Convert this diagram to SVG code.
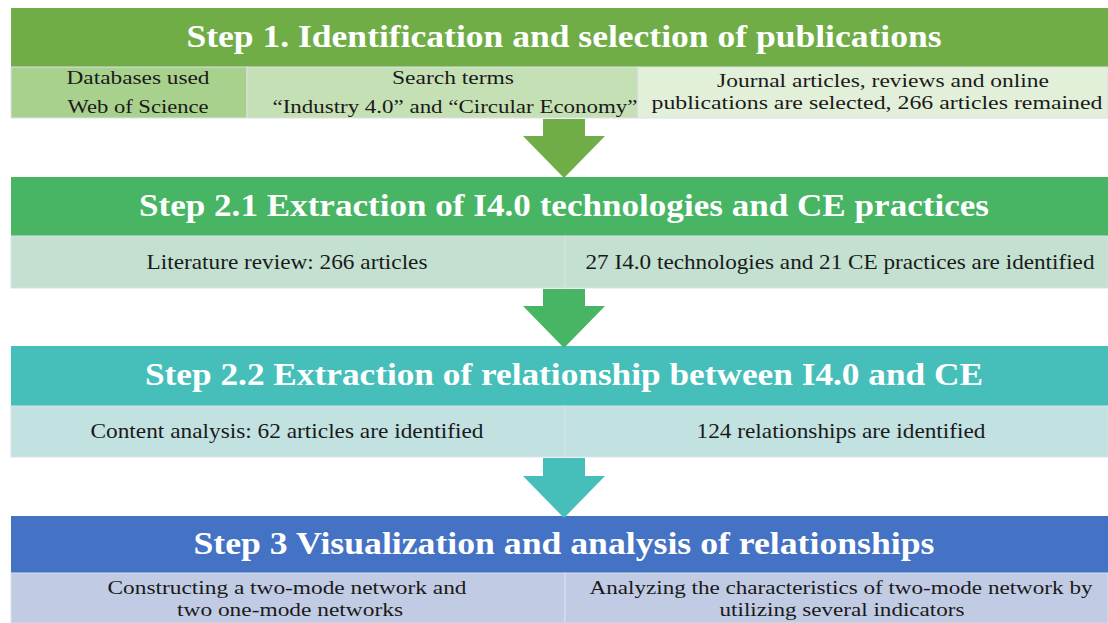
<svg xmlns="http://www.w3.org/2000/svg" width="1108" height="623" viewBox="0 0 1108 623">
  <style>
    .title { font-family: "Liberation Serif", "DejaVu Serif", serif; font-weight: bold; font-size: 31px; fill: #ffffff; text-anchor: middle; }
    .body { font-family: "Liberation Serif", "DejaVu Serif", serif; font-size: 21px; fill: #1a1a1a; text-anchor: middle; }
    .pair { font-size: 18.5px; }
    .cell { stroke: #d9e1ea; stroke-width: 1; }
  </style>
  <rect width="1108" height="623" fill="#ffffff"/>

  <!-- Step 1 -->
  <g id="step1">
    <rect x="11" y="8" width="1097" height="59" fill="#70ad47"/>
    <text class="title" x="564" y="47" textLength="755" lengthAdjust="spacingAndGlyphs">Step 1. Identification and selection of publications</text>
    <rect class="cell" x="11" y="67" width="236" height="51" fill="#a9d18e"/>
    <rect class="cell" x="247" y="67" width="391" height="51" fill="#c5e0b4"/>
    <rect class="cell" x="638" y="67" width="470" height="51" fill="#e2f0d9"/>
    <text class="body pair" x="138" y="84" textLength="143" lengthAdjust="spacingAndGlyphs">Databases used</text>
    <text class="body pair" x="138" y="113" textLength="141" lengthAdjust="spacingAndGlyphs">Web of Science</text>
    <text class="body pair" x="453" y="84" textLength="122" lengthAdjust="spacingAndGlyphs">Search terms</text>
    <text class="body pair" x="455" y="113" textLength="365" lengthAdjust="spacingAndGlyphs">“Industry 4.0” and “Circular Economy”</text>
    <text class="body pair" x="883" y="87" textLength="332" lengthAdjust="spacingAndGlyphs">Journal articles, reviews and online</text>
    <text class="body pair" x="877" y="109" textLength="451" lengthAdjust="spacingAndGlyphs">publications are selected, 266 articles remained</text>
  </g>

  <!-- Step 2.1 -->
  <g id="step2-1">
    <rect x="11" y="177" width="1097" height="59" fill="#47b564"/>
    <text class="title" x="564" y="216" textLength="850" lengthAdjust="spacingAndGlyphs">Step 2.1 Extraction of I4.0 technologies and CE practices</text>
    <rect class="cell" x="11" y="236" width="554" height="52" fill="#c3e0d1"/>
    <rect class="cell" x="565" y="236" width="543" height="52" fill="#c3e0d1"/>
    <text class="body" x="287" y="269" textLength="281" lengthAdjust="spacingAndGlyphs">Literature review: 266 articles</text>
    <text class="body" x="840" y="269" textLength="509" lengthAdjust="spacingAndGlyphs">27 I4.0 technologies and 21 CE practices are identified</text>
  </g>

  <!-- Step 2.2 -->
  <g id="step2-2">
    <rect x="11" y="346" width="1097" height="60" fill="#46bfba"/>
    <text class="title" x="564" y="385" textLength="838" lengthAdjust="spacingAndGlyphs">Step 2.2 Extraction of relationship between I4.0 and CE</text>
    <rect class="cell" x="11" y="406" width="554" height="51" fill="#c2e1e1"/>
    <rect class="cell" x="565" y="406" width="543" height="51" fill="#c2e1e1"/>
    <text class="body" x="287" y="438" textLength="393" lengthAdjust="spacingAndGlyphs">Content analysis: 62 articles are identified</text>
    <text class="body" x="841" y="438" textLength="289" lengthAdjust="spacingAndGlyphs">124 relationships are identified</text>
  </g>

  <!-- Step 3 -->
  <g id="step3">
    <rect x="11" y="516" width="1097" height="57" fill="#4472c4"/>
    <text class="title" x="564" y="554" textLength="741" lengthAdjust="spacingAndGlyphs">Step 3 Visualization and analysis of relationships</text>
    <rect class="cell" x="11" y="573" width="554" height="50" fill="#c1cbe4"/>
    <rect class="cell" x="565" y="573" width="543" height="50" fill="#c1cbe4"/>
    <text class="body pair" x="287" y="594" textLength="359" lengthAdjust="spacingAndGlyphs">Constructing a two-mode network and</text>
    <text class="body pair" x="290" y="616" textLength="226" lengthAdjust="spacingAndGlyphs">two one-mode networks</text>
    <text class="body pair" x="841" y="594" textLength="503" lengthAdjust="spacingAndGlyphs">Analyzing the characteristics of two-mode network by</text>
    <text class="body pair" x="842" y="616" textLength="245" lengthAdjust="spacingAndGlyphs">utilizing several indicators</text>
  </g>

  <!-- Block arrows between steps -->
  <g id="connectors">
    <polygon points="543,119 585,119 585,136 605,136 564,178 523,136 543,136" fill="#70ad47"/>
    <polygon points="543,289 585,289 585,306 605,306 564,348 523,306 543,306" fill="#47b564"/>
    <polygon points="543,458 585,458 585,476 605,476 564,518 523,476 543,476" fill="#46bfba"/>
  </g>
</svg>
